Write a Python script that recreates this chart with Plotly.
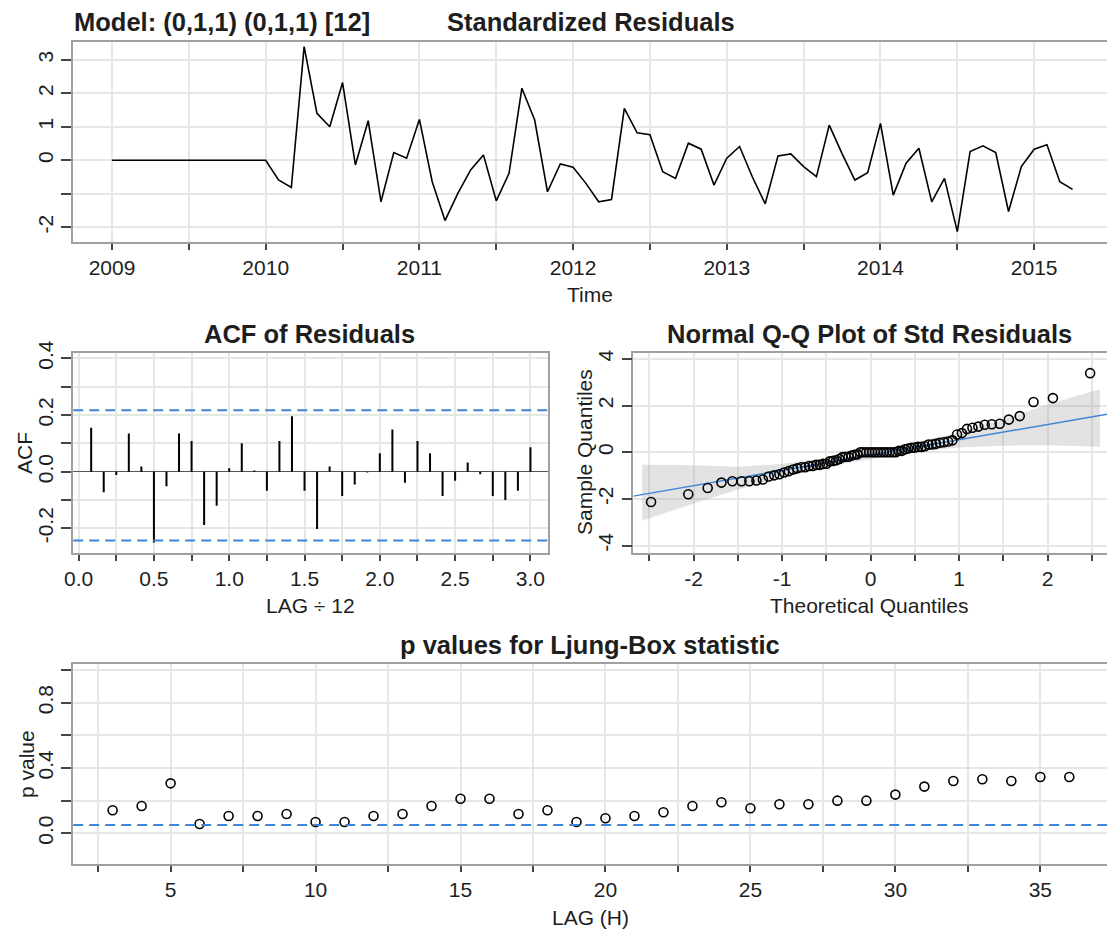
import plotly.graph_objects as go
from statistics import NormalDist

# ---------------- data ----------------
start_year = 2009
resid = [0.0] * 12 + [
    0.00, -0.59, -0.81, 3.39, 1.40, 1.00, 2.32, -0.14, 1.18, -1.24, 0.23, 0.06,
    1.22, -0.64, -1.80, -0.99, -0.29, 0.16, -1.21, -0.39, 2.15, 1.20, -0.94, -0.11,
    -0.21, -0.69, -1.24, -1.17, 1.55, 0.82, 0.76, -0.34, -0.54, 0.51, 0.33, -0.74,
    0.06, 0.41, -0.50, -1.30, 0.13, 0.19, -0.19, -0.49, 1.05, 0.20, -0.59, -0.37,
    1.10, -1.04, -0.09, 0.36, -1.24, -0.54, -2.13, 0.26, 0.43, 0.23, -1.53, -0.19,
    0.33, 0.46, -0.64, -0.87,
]
time = [start_year + i / 12 for i in range(len(resid))]

acf_lags = list(range(1, 37))
acf_vals = [0.155, -0.073, -0.012, 0.135, 0.018, -0.250, -0.051, 0.135, 0.108, -0.188,
            -0.120, 0.012, 0.100, 0.004, -0.067, 0.108, 0.196, -0.067, -0.202, 0.018,
            -0.086, -0.045, -0.003, 0.065, 0.149, -0.039, 0.108, 0.065, -0.086, -0.032,
            0.032, -0.009, -0.086, -0.100, -0.067, 0.086]
acf_bounds = [0.217, -0.243]

qq_band_x = [-2.58, -2.0, -1.5, -1.0, -0.5, 0.0, 0.5, 1.0, 1.5, 2.0, 2.59]
qq_band_upper = [-0.54, -0.56, -0.62, -0.50, -0.24, 0.05, 0.40, 0.85, 1.40, 2.05, 2.70]
qq_band_lower = [-2.93, -2.20, -1.60, -1.05, -0.62, -0.30, 0.02, 0.20, 0.28, 0.30, 0.24]
qq_line_x = [-2.68, 2.67]
qq_line_y = [-1.88, 1.63]

lb_lags = list(range(3, 37))
lb_pvals = [0.141, 0.167, 0.306, 0.057, 0.106, 0.106, 0.118, 0.069, 0.069, 0.106,
            0.118, 0.167, 0.212, 0.212, 0.118, 0.141, 0.069, 0.092, 0.106, 0.129,
            0.167, 0.190, 0.153, 0.178, 0.178, 0.200, 0.200, 0.237, 0.286, 0.320,
            0.331, 0.320, 0.345, 0.345]
lb_level = 0.05

# QQ coordinates from the residuals
n = len(resid)
qq_sample = sorted(resid)
qq_theory = [NormalDist().inv_cdf((i + 0.5) / n) for i in range(n)]

# ---------------- styling ----------------
W, H = 1107, 932
FONT = "Liberation Sans, Arial, sans-serif"
TXT = "#1e1e1e"
BLUE = "#3d86d6"


def px(x):
    return x / W


def py(y):
    return 1 - y / H


def axis(**kw):
    d = dict(showline=True, linecolor="#a0a0a0", linewidth=1.5,
             showgrid=True, gridcolor="#e6e6e6", gridwidth=1.5,
             ticks="outside", tickcolor="#444", tickwidth=1.5,
             zeroline=False, automargin=False,
             tickfont=dict(size=21, color=TXT, family=FONT))
    d.update(kw)
    return d


fig = go.Figure()

fig.add_trace(go.Scatter(x=time, y=resid, mode="lines",
                         line=dict(color="black", width=1.6),
                         xaxis="x", yaxis="y", hoverinfo="skip"))

ax_x, ax_y = [], []
for k, v in zip(acf_lags, acf_vals):
    ax_x += [k / 12, k / 12, None]
    ax_y += [0, v, None]
fig.add_trace(go.Scatter(x=ax_x, y=ax_y, mode="lines",
                         line=dict(color="black", width=2),
                         xaxis="x2", yaxis="y2", hoverinfo="skip"))

fig.add_trace(go.Scatter(x=qq_band_x + qq_band_x[::-1],
                         y=qq_band_upper + qq_band_lower[::-1],
                         fill="toself", fillcolor="rgba(160,160,160,0.3)",
                         line=dict(width=0), mode="lines",
                         xaxis="x3", yaxis="y3", hoverinfo="skip"))
fig.add_trace(go.Scatter(x=qq_line_x, y=qq_line_y, mode="lines",
                         line=dict(color=BLUE, width=1.5),
                         xaxis="x3", yaxis="y3", hoverinfo="skip"))
fig.add_trace(go.Scatter(x=qq_theory, y=qq_sample, mode="markers",
                         marker=dict(symbol="circle-open", size=9,
                                     color="black", line=dict(width=1.6)),
                         xaxis="x3", yaxis="y3"))

fig.add_trace(go.Scatter(x=lb_lags, y=lb_pvals, mode="markers",
                         marker=dict(symbol="circle-open", size=9,
                                     color="black", line=dict(width=1.6)),
                         xaxis="x4", yaxis="y4"))

top_xt = [2009 + 0.5 * i for i in range(13)]
acf_xt = [0.25 * i for i in range(13)]
acf_yt = [-0.2, -0.1, 0.0, 0.1, 0.2, 0.3, 0.4]
qq_xt = [-2.5 + 0.5 * i for i in range(11)]
lb_xt = [2.5 * i for i in range(1, 15)]
lb_yt = [0.0, 0.2, 0.4, 0.6, 0.8, 1.0]

fig.update_layout(
    width=W, height=H, margin=dict(l=0, r=0, t=0, b=0, pad=0, autoexpand=False),
    paper_bgcolor="white", plot_bgcolor="white", showlegend=False,
    xaxis=axis(domain=[px(73), 1.0], range=[2008.746, 2015.474], anchor="y",
               mirror=True, ticklen=6, tickvals=top_xt,
               ticktext=[str(int(v)) if v == int(v) else "" for v in top_xt]),
    yaxis=axis(domain=[py(242), py(42)], range=[-2.44, 3.53], anchor="x",
               ticklen=10, tickangle=-90, tickvals=[-2, -1, 0, 1, 2, 3],
               ticktext=["-2", "", "0", "1", "2", "3"]),
    xaxis2=axis(domain=[px(73.2), px(548.2)], range=[-0.036, 3.118], anchor="y2",
                mirror=True, ticklen=6, tickvals=acf_xt,
                ticktext=[f"{v:.1f}" if abs(v * 2 - round(v * 2)) < 1e-9 else "" for v in acf_xt]),
    yaxis2=axis(domain=[py(553.3), py(353.3)], range=[-0.288, 0.4177], anchor="x2",
                mirror=True, ticklen=10, tickangle=-90, tickvals=acf_yt,
                ticktext=["-0.2", "", "0.0", "", "0.2", "", "0.4"],
                zeroline=True, zerolinecolor="#555", zerolinewidth=1.2),
    xaxis3=axis(domain=[px(633.3), 1.0], range=[-2.68, 2.67], anchor="y3",
                mirror=True, ticklen=6, tickvals=qq_xt,
                ticktext=[str(int(v)) if v == int(v) else "" for v in qq_xt]),
    yaxis3=axis(domain=[py(553.3), py(353.3)], range=[-4.33, 4.24], anchor="x3",
                ticklen=10, tickangle=-90, tickvals=[-4, -2, 0, 2, 4],
                ticktext=["-4", "-2", "0", "2", "4"]),
    xaxis4=axis(domain=[px(73.2), 1.0], range=[1.64, 37.3], anchor="y4",
                mirror=True, ticklen=6, tickvals=lb_xt,
                ticktext=[str(int(v)) if v % 5 == 0 else "" for v in lb_xt]),
    yaxis4=axis(domain=[py(864.3), py(664)], range=[-0.19, 1.037], anchor="x4",
                ticklen=10, tickangle=-90, tickvals=lb_yt,
                ticktext=["0.0", "", "0.4", "", "0.8", ""]),
)

dash = "10px,6px"
for b in acf_bounds:
    fig.add_shape(type="line", xref="x2 domain", yref="y2", x0=0, x1=1, y0=b, y1=b,
                  line=dict(color=BLUE, width=2, dash=dash))
fig.add_shape(type="line", xref="x4 domain", yref="y4", x0=0, x1=1, y0=lb_level, y1=lb_level,
              line=dict(color=BLUE, width=2, dash=dash))


def note(text, x, y, size=21, bold=False, angle=0, xanchor="center"):
    fig.add_annotation(text=f"<b>{text}</b>" if bold else text,
                       x=px(x), y=py(y), xref="paper", yref="paper",
                       xanchor=xanchor, yanchor="middle", showarrow=False,
                       textangle=angle, font=dict(size=size, color=TXT, family=FONT))


note("Model: (0,1,1) (0,1,1) [12]", 72, 22, size=25.5, bold=True, xanchor="left")
note("Standardized Residuals", 591, 22, size=25.5, bold=True)
note("ACF of Residuals", 309, 334, size=25.5, bold=True)
note("Normal Q-Q Plot of Std Residuals", 869, 334, size=25.5, bold=True)
note("p values for Ljung-Box statistic", 590, 645, size=25.5, bold=True)
note("Time", 590, 294)
note("LAG ÷ 12", 310, 605)
note("Theoretical Quantiles", 869, 605)
note("LAG (H)", 590, 917)
note("ACF", 24, 453, angle=-90)
note("Sample Quantiles", 584, 452, angle=-90)
note("p value", 26, 764, angle=-90)

fig.write_html("out.html")
